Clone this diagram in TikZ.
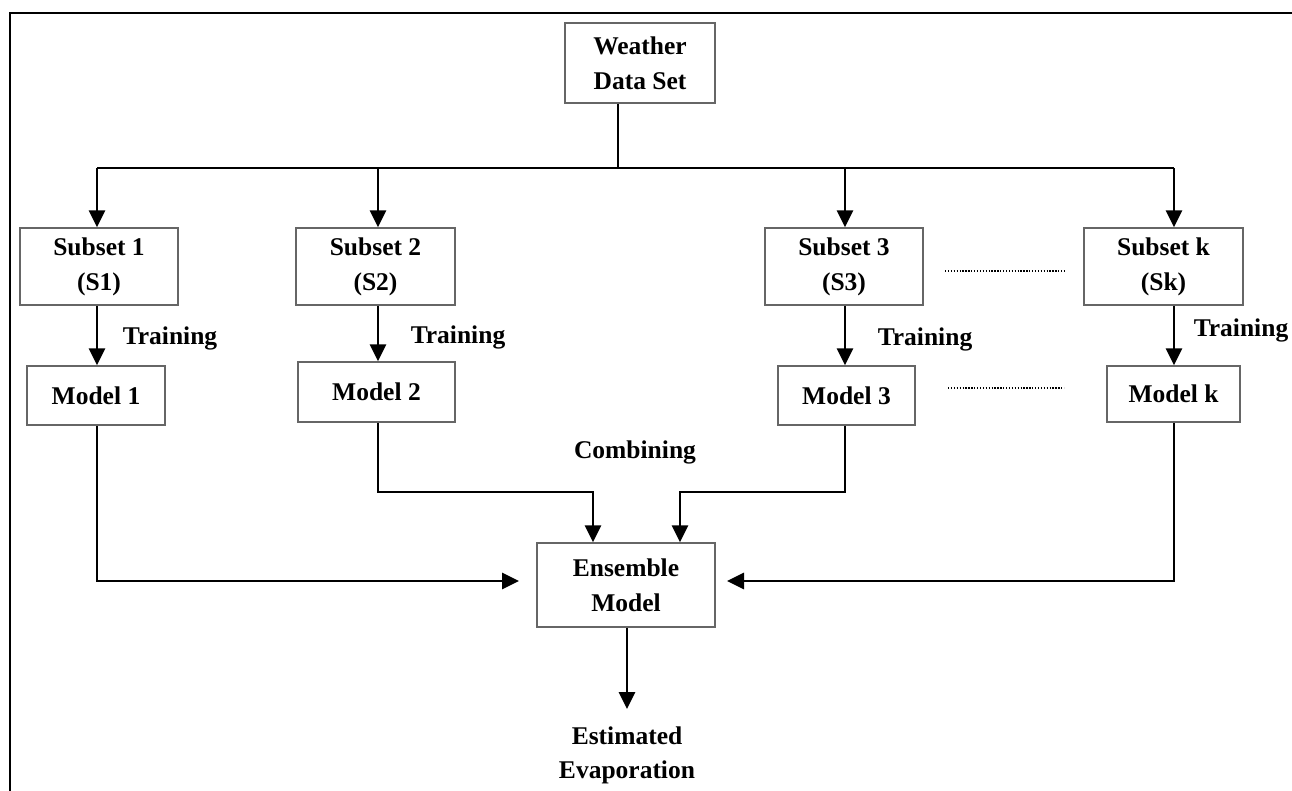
\documentclass[tikz,border=0pt]{standalone}
\usepackage{fontspec}
\setmainfont{Liberation Serif}
\usetikzlibrary{arrows.meta}
\begin{document}
\begin{tikzpicture}[x=1pt,y=-1pt,
  box/.style={draw=black!60,line width=1.5pt,inner sep=0pt,align=center,
    font=\bfseries\fontsize{25.5}{35}\selectfont},
  lbl/.style={inner sep=0pt,align=center,font=\bfseries\fontsize{25.5}{34}\selectfont},
  conn/.style={line width=2.8pt,black},
  arr/.style={conn,-{Triangle[width=16pt,length=17pt]}},
  dots/.style={line width=1.3pt,dash pattern=on 1.3pt off 1.6pt},
  frame/.style={line width=2.5pt,black}]
\useasboundingbox (0,0) rectangle (1292,790);
% frame
\draw[frame] (1292,13) -- (10,13) -- (10,791);
% nodes
\node[box,minimum width=150pt,minimum height=80pt] (w) at (640,63) {Weather\\Data Set};
\node[box,minimum width=158pt,minimum height=77pt] (s1) at (99,266.5) {Subset 1\\(S1)};
\node[box,minimum width=159pt,minimum height=77pt] (s2) at (375.5,266.5) {Subset 2\\(S2)};
\node[box,minimum width=158pt,minimum height=77pt] (s3) at (844,266.5) {Subset 3\\(S3)};
\node[box,minimum width=159pt,minimum height=77pt] (sk) at (1163.5,266.5) {Subset k\\(Sk)};
\node[box,minimum width=138pt,minimum height=59pt] (m1) at (96,395.5) {Model 1};
\node[box,minimum width=157pt,minimum height=60pt] (m2) at (376.5,392) {Model 2};
\node[box,minimum width=137pt,minimum height=59pt] (m3) at (846.5,395.5) {Model 3};
\node[box,minimum width=133pt,minimum height=56pt] (mk) at (1173.5,394) {Model k};
\node[box,minimum width=178pt,minimum height=84pt] (ens) at (626,585) {Ensemble\\Model};
\node[lbl] (est) at (627,755) {Estimated\\Evaporation};
% labels
\node[lbl] (t1) at (170,338) {Training};
\node[lbl] (t2) at (458,337) {Training};
\node[lbl] (t3) at (925,339) {Training};
\node[lbl] (tk) at (1241,330) {Training};
\node[lbl] (cb) at (635,452) {Combining};
% coordinates
\coordinate (j0) at (618,168);
\coordinate (b1) at (97,168);
\coordinate (b2) at (378,168);
\coordinate (b3) at (845,168);
\coordinate (b4) at (1174,168);
\coordinate (e1) at (519,581);
\coordinate (e2) at (727,581);
\coordinate (c2) at (593,492);
\coordinate (c3) at (680,492);
\coordinate (ee) at (627,709);
\coordinate (d1a) at (945,271);
\coordinate (d1b) at (1064,271);
\coordinate (d2a) at (948,388);
\coordinate (d2b) at (1064,388);
% connectors
\draw[conn] (w.south -| j0) -- (j0);
\draw[conn] (b1) -- (b4);
\draw[arr] (b1) -- (b1 |- s1.north);
\draw[arr] (b2) -- (b2 |- s2.north);
\draw[arr] (b3) -- (b3 |- s3.north);
\draw[arr] (b4) -- (b4 |- sk.north);
\draw[arr] (b1 |- s1.south) -- (b1 |- m1.north);
\draw[arr] (b2 |- s2.south) -- (b2 |- m2.north);
\draw[arr] (b3 |- s3.south) -- (b3 |- m3.north);
\draw[arr] (b4 |- sk.south) -- (b4 |- mk.north);
\draw[arr] (b1 |- m1.south) |- (e1);
\draw[arr] (b4 |- mk.south) |- (e2);
\draw[arr] (b2 |- m2.south) |- (c2) -- (c2 |- ens.north);
\draw[arr] (b3 |- m3.south) |- (c3) -- (c3 |- ens.north);
\draw[arr] (ee |- ens.south) -- (ee);
% dotted continuation marks
\draw[dots] (d1a) -- (d1b);
\draw[dots] (d2a) -- (d2b);
\end{tikzpicture}
\end{document}
